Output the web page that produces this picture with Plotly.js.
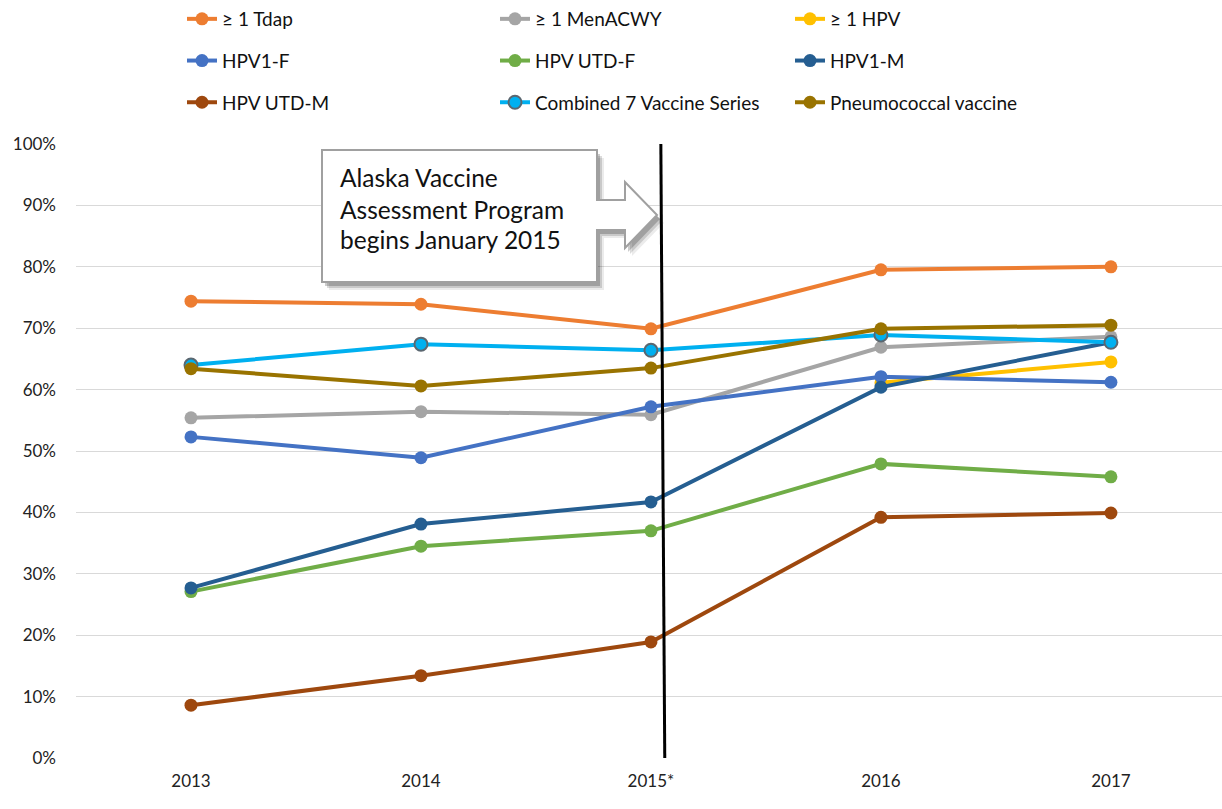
<!DOCTYPE html>
<html>
<head>
<meta charset="utf-8">
<script src="https://cdn.plot.ly/plotly-3.0.1.min.js"></script>
<style>html,body{margin:0;padding:0;background:#fff;}#chart{width:1222px;height:809px;}</style>
</head>
<body>
<div id="chart"></div>
<script>
const years = ["2013", "2014", "2015*", "2016", "2017"];
const tdap = [0.744, 0.739, 0.699, 0.795, 0.800];
const menacwy = [0.554, 0.564, 0.559, 0.669, 0.686];
const hpv1 = [null, null, null, 0.611, 0.645];
const hpv1F = [0.523, 0.489, 0.572, 0.621, 0.612];
const hpvUtdF = [0.271, 0.345, 0.370, 0.479, 0.458];
const hpv1M = [0.277, 0.381, 0.417, 0.604, 0.677];
const hpvUtdM = [0.086, 0.134, 0.189, 0.392, 0.399];
const combined7 = [0.640, 0.674, 0.664, 0.689, 0.677];
const pneumo = [0.634, 0.606, 0.635, 0.699, 0.705];

const FONT = "Lato, 'Open Sans', sans-serif";

function tr(name, y, color, legend, opts) {
  opts = opts || {};
  return {
    x: years, y: y, name: name, type: "scatter", mode: "lines+markers",
    line: {color: color, width: 4},
    marker: {color: color, size: 13, line: {color: opts.mline || color, width: opts.mline ? 2 : 0}},
    legend: legend, legendgroup: name, connectgaps: false,
    hoverinfo: "skip"
  };
}

const traces = [
  tr("≥ 1 Tdap", tdap, "#ED7D31", "legend"),
  tr("≥ 1 MenACWY", menacwy, "#A5A5A5", "legend2"),
  tr("≥ 1 HPV", hpv1, "#FFC000", "legend3"),
  tr("HPV1-F", hpv1F, "#4472C4", "legend"),
  tr("HPV UTD-F", hpvUtdF, "#70AD47", "legend2"),
  tr("HPV1-M", hpv1M, "#255E91", "legend3"),
  tr("HPV UTD-M", hpvUtdM, "#9E480E", "legend"),
  tr("Combined 7 Vaccine Series", combined7, "#00B0F0", "legend2", {mline: "#5B6770"}),
  tr("Pneumococcal vaccine", pneumo, "#997300", "legend3")
];

// plot area in pixels
const L = 76, R = 1222, T = 144, B = 758;
function px(X) { return (X - L) / (R - L); }
function py(Y) { return (B - Y) / (B - T); }
function path(pts, dx, dy) {
  return pts.map((p, i) => (i ? "L" : "M") + px(p[0] + dx).toFixed(5) + "," + py(p[1] + dy).toFixed(5)).join(" ") + " Z";
}
const callout = [[322,150],[597,150],[597,200],[625,200],[625,182],[657,215],[625,248],[625,230],[597,230],[597,282],[322,282]];

function legendCfg(x) {
  return {
    xref: "container", yref: "container", x: x / 1222, y: 1 - 0 / 809,
    xanchor: "left", yanchor: "top", orientation: "v",
    font: {family: FONT, size: 19, color: "#111"},
    traceorder: "grouped", tracegroupgap: 14, bgcolor: "rgba(0,0,0,0)",
    itemwidth: 30
  };
}

const layout = {
  width: 1222, height: 809,
  margin: {l: L, r: 1222 - R, t: T, b: 809 - B, pad: 0, autoexpand: false},
  paper_bgcolor: "#fff", plot_bgcolor: "#fff",
  font: {family: FONT, size: 16, color: "#222"},
  showlegend: true,
  legend: legendCfg(182),
  legend2: legendCfg(495),
  legend3: legendCfg(790),
  xaxis: {
    type: "category", range: [-0.5, 4.483], showgrid: false, zeroline: false,
    showline: false, ticks: "", tickangle: 0, automargin: false, ticklabelstandoff: 11,
    tickfont: {family: FONT, size: 17, color: "#222"},
    fixedrange: true
  },
  yaxis: {
    range: [0, 1], tickvals: [0,0.1,0.2,0.3,0.4,0.5,0.6,0.7,0.8,0.9,1],
    tickformat: ".0%", showgrid: true, gridcolor: "#D9D9D9", gridwidth: 1,
    zeroline: false, showline: false, ticks: "", ticklabelstandoff: 19, automargin: false,
    tickfont: {family: FONT, size: 17, color: "#222"}, fixedrange: true
  },
  shapes: [
    {type: "line", xref: "x", yref: "paper", x0: 2.043, y0: 1, x1: 2.06, y1: 0,
     line: {color: "#000", width: 3}, layer: "above"},
    {type: "path", xref: "paper", yref: "paper", path: path(callout, 7, 8),
     fillcolor: "rgba(0,0,0,0.08)", line: {width: 0}, layer: "above"},
    {type: "path", xref: "paper", yref: "paper", path: path(callout, 5, 6),
     fillcolor: "rgba(0,0,0,0.14)", line: {width: 0}, layer: "above"},
    {type: "path", xref: "paper", yref: "paper", path: path(callout, 3, 4),
     fillcolor: "rgba(0,0,0,0.2)", line: {width: 0}, layer: "above"},
    {type: "path", xref: "paper", yref: "paper", path: path(callout, 0, 0),
     fillcolor: "#fff", line: {color: "#A0A0A0", width: 2}, layer: "above"}
  ],
  annotations: [
    {text: "Alaska Vaccine", y: py(177)},
    {text: "Assessment Program", y: py(209)},
    {text: "begins January 2015", y: py(240)}
  ].map(a => ({
    text: a.text, xref: "paper", yref: "paper", x: px(338), y: a.y,
    xanchor: "left", yanchor: "middle", showarrow: false, align: "left",
    font: {family: FONT, size: 24.5, color: "#111"}
  }))
};

Plotly.newPlot("chart", traces, layout, {displayModeBar: false, staticPlot: true});
</script>
</body>
</html>
